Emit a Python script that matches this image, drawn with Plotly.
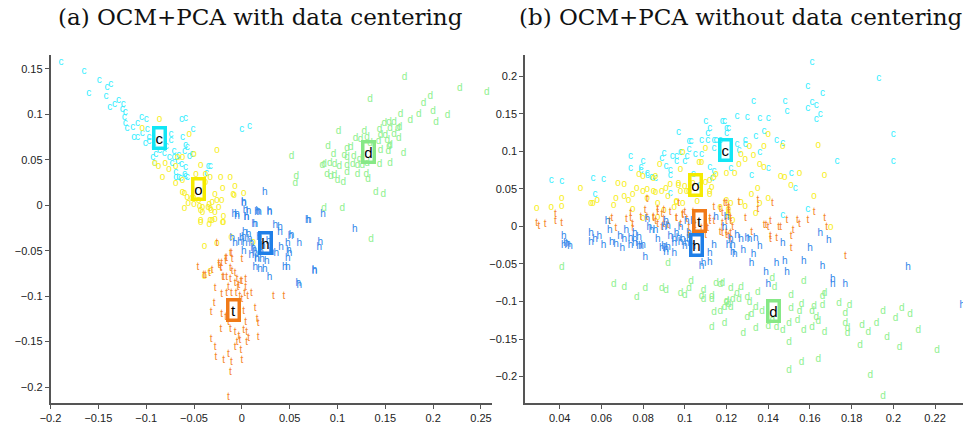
import plotly.graph_objects as go

# ---------------- Panel (a): OCM+PCA with data centering ----------------
a_c = [(-0.189,0.157),(-0.165,0.147),(-0.149,0.137),(-0.160,0.123),(-0.141,0.129),(-0.137,0.133),(-0.142,0.120),
       (-0.138,0.108),(-0.133,0.111),(-0.129,0.115),(-0.124,0.111),(-0.125,0.105),(-0.122,0.102),(-0.123,0.096),
       (-0.122,0.090),(-0.120,0.084),(-0.114,0.086),(-0.109,0.090),(-0.105,0.096),(-0.100,0.094),(-0.113,0.074),
       (-0.109,0.074),(-0.104,0.079),(-0.099,0.083),(-0.097,0.075),(-0.101,0.068),(-0.097,0.070),(-0.092,0.063),
       (-0.090,0.056),(-0.086,0.060),(-0.081,0.057),(-0.079,0.065),(-0.074,0.078),(-0.074,0.071),(-0.063,0.094),
       (-0.059,0.095),(-0.051,0.083),(-0.062,0.074),(-0.071,0.059),(-0.066,0.055),(-0.060,0.059),(-0.059,0.066),
       (-0.057,0.063),(-0.055,0.054),(-0.052,0.056),(-0.071,0.052),(-0.076,0.052),(-0.073,0.046),(-0.067,0.048),
       (-0.063,0.045),(-0.059,0.041),(-0.069,0.030),(-0.064,0.029),(-0.059,0.032),(-0.035,0.043),(-0.033,0.043),
       (-0.037,0.035),(0.000,0.083),(0.008,0.087),(-0.093,0.052),(-0.091,0.046),(-0.069,0.036),(-0.066,0.030),
       (-0.060,0.034),(-0.057,0.030)]
a_o = [(-0.086,0.094),(-0.104,0.084),(-0.055,0.078),(-0.026,0.060),(-0.091,0.046),(-0.087,0.043),(-0.080,0.046),
       (-0.076,0.039),(-0.083,0.030),(-0.069,0.043),(-0.067,0.052),(-0.062,0.052),(-0.050,0.056),(-0.043,0.044),
       (-0.069,0.024),(-0.062,0.027),(-0.060,0.013),(-0.048,0.034),(-0.038,0.034),(-0.033,0.030),(-0.022,0.030),
       (-0.012,0.031),(-0.007,0.021),(0.002,0.013),(-0.009,0.012),(-0.028,0.012),(-0.026,0.005),(-0.021,0.005),
       (-0.034,0.001),(-0.043,-0.006),(-0.033,-0.004),(-0.028,-0.008),(-0.060,-0.004),(-0.050,0.001),(-0.043,-0.017),
       (-0.033,-0.017),(-0.028,-0.016),(-0.019,-0.019),(-0.056,0.002),(-0.052,0.007),(-0.045,0.005),(-0.041,-0.003),
       (-0.035,-0.003),(-0.032,-0.006),(-0.034,-0.021),(-0.039,-0.045),(-0.026,-0.042),(-0.039,-0.078),(-0.033,-0.073),
       (-0.011,-0.036),(0.012,-0.041),(-0.020,0.018),(-0.008,0.011),(-0.031,0.003),(-0.024,-0.003),(-0.019,-0.012),
       (-0.020,-0.019),(-0.031,-0.017),(-0.043,-0.019),(-0.038,0.025),(-0.062,0.014),(-0.057,0.008),(-0.050,0.007),
       (-0.044,-0.001),(-0.041,-0.008)]
a_h = [(0.024,0.014),(0.002,0.003),(-0.008,-0.010),(-0.005,-0.010),(0.005,-0.013),(0.018,-0.008),(0.029,-0.008),
       (0.014,-0.021),(0.035,-0.022),(0.040,-0.024),(0.040,-0.030),(0.002,-0.035),(0.007,-0.032),(0.003,-0.042),
       (-0.002,-0.041),(-0.007,-0.042),(0.002,-0.051),(0.012,-0.048),(0.014,-0.053),(0.016,-0.059),(0.021,-0.060),
       (0.026,-0.062),(0.036,-0.053),(0.041,-0.046),(0.048,-0.042),(0.052,-0.033),(0.060,-0.042),(0.050,-0.053),
       (0.048,-0.059),(0.019,-0.071),(0.024,-0.071),(0.029,-0.080),(0.045,-0.068),(0.076,-0.073),(0.069,-0.017),
       (0.085,-0.010),(0.082,-0.041),(0.081,-0.046),(0.059,-0.086),(0.007,-0.007),(0.017,-0.007),(0.029,-0.007),
       (0.013,-0.021),(0.070,-0.017),(0.118,-0.027),(0.076,-0.072),(0.060,-0.088),(0.048,-0.068),(0.051,-0.034),
       (0.049,-0.050),(0.002,0.002),(-0.005,-0.012),(0.005,-0.014),(0.016,-0.008),(0.004,-0.006),(-0.010,-0.037),
       (0.000,-0.037),(0.003,-0.030),(0.010,-0.042),(0.013,-0.050),(0.016,-0.060),(0.014,-0.068),(0.008,-0.038),
       (0.018,-0.036),(0.022,-0.045),(0.010,-0.055),(0.020,-0.052),(0.028,-0.040),(0.031,-0.052)]
a_t = [(-0.026,-0.042),(-0.011,-0.053),(-0.017,-0.059),(-0.010,-0.060),(0.000,-0.060),(-0.021,-0.064),(-0.024,-0.066),
       (-0.046,-0.068),(-0.040,-0.077),(-0.034,-0.075),(-0.022,-0.070),(-0.012,-0.070),(-0.019,-0.080),(-0.016,-0.080),
       (-0.012,-0.082),(-0.007,-0.086),(-0.003,-0.088),(0.000,-0.084),(0.004,-0.082),(0.004,-0.090),(-0.004,-0.090),
       (-0.014,-0.091),(-0.028,-0.092),(-0.021,-0.098),(-0.016,-0.097),(-0.011,-0.097),(-0.006,-0.097),(-0.002,-0.100),
       (0.000,-0.104),(0.006,-0.100),(0.003,-0.097),(-0.029,-0.108),(-0.032,-0.118),(-0.021,-0.120),(-0.017,-0.124),
       (-0.014,-0.129),(-0.012,-0.137),(-0.022,-0.137),(-0.007,-0.140),(0.002,-0.117),(0.004,-0.129),(0.002,-0.138),
       (-0.003,-0.144),(-0.002,-0.149),(0.005,-0.140),(0.005,-0.151),(-0.005,-0.151),(-0.007,-0.157),(-0.032,-0.148),
       (-0.028,-0.157),(-0.027,-0.167),(-0.014,-0.164),(-0.019,-0.171),(-0.011,-0.173),(-0.012,-0.184),(-0.001,-0.160),
       (0.000,-0.171),(-0.014,-0.211),(0.010,-0.097),(0.033,-0.100),(0.044,-0.100),(0.014,-0.114),(0.016,-0.126),
       (0.017,-0.130),(0.017,-0.146),(0.007,-0.147),(-0.024,-0.064),(-0.022,-0.068),(-0.017,-0.062),(-0.016,-0.059),
       (-0.012,-0.053),(-0.010,-0.073),(-0.007,-0.075),(-0.020,-0.080),(-0.005,-0.082),(-0.001,-0.084),(-0.038,-0.077),
       (-0.031,-0.072)]
a_d = [(0.170,0.140),(0.134,0.116),(0.228,0.128),(0.256,0.124),(0.190,0.112),(0.197,0.120),(0.166,0.100),(0.176,0.093),
       (0.185,0.100),(0.200,0.103),(0.203,0.091),(0.215,0.099),(0.149,0.090),(0.154,0.091),(0.159,0.091),(0.144,0.083),
       (0.155,0.084),(0.163,0.084),(0.165,0.085),(0.145,0.077),(0.150,0.077),(0.159,0.078),(0.164,0.073),(0.152,0.071),
       (0.143,0.070),(0.154,0.065),(0.155,0.066),(0.101,0.081),(0.128,0.081),(0.119,0.073),(0.124,0.072),(0.131,0.075),
       (0.134,0.068),(0.145,0.060),(0.153,0.059),(0.169,0.057),(0.090,0.065),(0.110,0.062),(0.114,0.063),(0.096,0.056),
       (0.107,0.055),(0.110,0.052),(0.117,0.054),(0.123,0.050),(0.052,0.054),(0.084,0.044),(0.086,0.045),(0.092,0.046),
       (0.097,0.045),(0.102,0.043),(0.110,0.044),(0.116,0.045),(0.121,0.044),(0.126,0.044),(0.131,0.046),(0.144,0.045),
       (0.155,0.046),(0.089,0.034),(0.093,0.032),(0.097,0.033),(0.110,0.036),(0.121,0.034),(0.130,0.034),(0.132,0.028),
       (0.100,0.027),(0.106,0.025),(0.057,0.032),(0.056,0.024),(0.140,0.014),(0.148,0.012),(0.086,-0.004),(0.105,-0.004),
       (0.135,-0.038)]
a_centroids = {"c": (-0.086, 0.074), "o": (-0.045, 0.018), "h": (0.025, -0.041), "t": (-0.009, -0.115), "d": (0.132, 0.059)}

# ---------------- Panel (b): OCM+PCA without data centering ----------------
b_c = [(0.036,0.061),(0.041,0.060),(0.056,0.064),(0.061,0.062),(0.057,0.042),(0.074,0.093),(0.074,0.077),(0.080,0.087),
       (0.079,0.079),(0.079,0.074),(0.082,0.068),(0.084,0.065),(0.086,0.064),(0.082,0.071),(0.090,0.097),(0.089,0.091),
       (0.091,0.080),(0.094,0.093),(0.096,0.093),(0.093,0.075),(0.093,0.068),(0.096,0.087),(0.097,0.125),(0.098,0.099),
       (0.100,0.086),(0.102,0.103),(0.102,0.113),(0.103,0.113),(0.105,0.096),(0.108,0.096),(0.101,0.093),(0.104,0.069),
       (0.110,0.140),(0.112,0.131),(0.111,0.124),(0.108,0.114),(0.111,0.114),(0.114,0.114),(0.114,0.104),(0.115,0.115),
       (0.118,0.140),(0.120,0.131),(0.120,0.124),(0.117,0.114),(0.114,0.073),(0.113,0.064),(0.112,0.078),(0.107,0.054),
       (0.093,0.044),(0.161,0.218),(0.193,0.197),(0.159,0.186),(0.166,0.177),(0.133,0.166),(0.148,0.166),(0.149,0.153),
       (0.159,0.157),(0.161,0.165),(0.163,0.161),(0.165,0.149),(0.163,0.143),(0.125,0.146),(0.130,0.145),(0.136,0.144),
       (0.140,0.144),(0.121,0.131),(0.119,0.140),(0.138,0.127),(0.134,0.120),(0.144,0.115),(0.147,0.111),(0.129,0.114),
       (0.129,0.109),(0.125,0.109),(0.126,0.101),(0.136,0.098),(0.140,0.077),(0.132,0.068),(0.151,0.070),(0.153,0.050),
       (0.122,0.077),(0.173,0.087),(0.200,0.123),(0.200,0.086),(0.159,0.022),(0.147,0.015)]
b_o = [(0.029,0.024),(0.036,0.025),(0.041,0.027),(0.041,0.037),(0.050,0.050),(0.055,0.031),(0.056,0.031),(0.058,0.035),
       (0.066,0.028),(0.067,0.037),(0.068,0.057),(0.071,0.056),(0.071,0.040),(0.073,0.034),(0.075,0.043),(0.075,0.023),
       (0.077,0.050),(0.078,0.069),(0.080,0.046),(0.080,0.011),(0.082,0.049),(0.082,0.037),(0.085,0.064),(0.087,0.012),
       (0.085,0.047),(0.087,0.031),(0.088,0.082),(0.090,0.021),(0.091,0.051),(0.092,0.040),(0.093,0.056),(0.095,0.025),
       (0.096,0.033),(0.097,0.057),(0.098,0.046),(0.098,0.076),(0.099,0.098),(0.099,0.031),(0.100,0.053),(0.102,0.046),
       (0.104,0.057),(0.106,0.033),(0.108,0.085),(0.110,0.104),(0.110,0.058),(0.113,0.052),(0.112,0.043),(0.114,0.065),
       (0.115,0.069),(0.117,0.025),(0.120,0.070),(0.120,0.034),(0.121,0.015),(0.123,0.008),(0.140,0.123),(0.138,0.106),
       (0.131,0.107),(0.133,0.095),(0.127,0.096),(0.129,0.089),(0.126,0.082),(0.136,0.082),(0.138,0.078),(0.146,0.067),
       (0.148,0.065),(0.155,0.071),(0.164,0.108),(0.167,0.068),(0.151,0.055),(0.135,0.050),(0.132,0.043),(0.127,0.032),
       (0.129,0.026),(0.122,0.031),(0.121,0.022),(0.121,0.017),(0.134,0.017),(0.140,0.037),(0.136,0.030),(0.162,0.040),
       (0.147,0.107),(0.170,-0.001),(0.124,0.071),(0.080,0.067),(0.086,0.066),(0.086,0.045),(0.089,0.047),(0.097,0.054),
       (0.101,0.047),(0.096,0.032),(0.112,0.061),(0.112,0.046),(0.107,0.085)]
b_t = [(0.029,0.004),(0.030,0.000),(0.033,0.003),(0.038,0.007),(0.041,0.004),(0.038,0.016),(0.064,0.006),(0.065,0.010),
       (0.067,-0.003),(0.072,0.009),(0.074,0.011),(0.075,0.003),(0.075,-0.003),(0.074,0.017),(0.081,0.021),(0.082,0.012),
       (0.085,0.011),(0.086,0.006),(0.087,0.018),(0.089,0.016),(0.090,0.009),(0.090,0.003),(0.093,0.018),(0.096,0.011),
       (0.098,0.003),(0.099,0.016),(0.100,0.018),(0.101,0.009),(0.104,0.019),(0.108,-0.003),(0.114,0.025),(0.117,0.022),
       (0.118,0.017),(0.120,0.030),(0.121,0.021),(0.122,0.011),(0.120,0.006),(0.118,-0.002),(0.123,-0.002),(0.122,-0.009),
       (0.117,-0.008),(0.114,0.006),(0.112,0.010),(0.111,-0.003),(0.119,0.031),(0.121,0.019),(0.122,0.006),(0.120,-0.008),
       (0.121,-0.014),(0.129,0.010),(0.132,-0.008),(0.135,0.034),(0.135,0.023),(0.139,0.001),(0.140,-0.002),(0.141,0.006),
       (0.142,0.031),(0.141,-0.018),(0.144,-0.016),(0.146,-0.002),(0.149,0.008),(0.151,-0.014),(0.151,-0.030),(0.152,-0.005),
       (0.154,0.008),(0.159,0.008),(0.162,0.018),(0.167,0.011),(0.168,-0.002),(0.177,-0.040),(0.122,-0.018),(0.082,0.036),
       (0.079,0.012),(0.085,0.012),(0.087,0.023),(0.090,0.021),(0.087,0.003),(0.089,-0.001),(0.092,0.001),(0.097,0.030),
       (0.096,0.010),(0.099,0.015),(0.102,-0.001),(0.105,0.001),(0.112,0.006),(0.118,0.004),(0.118,-0.010),(0.121,0.025),
       (0.126,0.032),(0.138,0.001),(0.145,-0.001),(0.155,0.003),(0.141,-0.014),(0.120,-0.012),(0.110,-0.012),(0.102,-0.012)]
b_h = [(0.063,0.006),(0.064,-0.006),(0.042,-0.013),(0.042,-0.026),(0.043,-0.023),(0.045,-0.027),(0.044,-0.024),(0.055,-0.010),
       (0.055,-0.021),(0.057,-0.018),(0.059,-0.013),(0.061,-0.025),(0.065,-0.022),(0.067,-0.024),(0.069,-0.014),(0.071,-0.018),
       (0.072,-0.006),(0.070,-0.030),(0.074,-0.025),(0.074,-0.016),(0.076,-0.018),(0.076,-0.009),(0.079,-0.027),(0.080,-0.025),
       (0.081,-0.041),(0.078,-0.015),(0.082,0.009),(0.084,-0.005),(0.083,-0.001),(0.086,-0.005),(0.087,-0.018),(0.089,-0.030),
       (0.090,-0.027),(0.091,-0.031),(0.091,-0.035),(0.092,-0.028),(0.095,-0.036),(0.095,-0.023),(0.095,-0.018),(0.093,-0.014),
       (0.096,-0.010),(0.097,-0.016),(0.098,-0.022),(0.099,-0.018),(0.100,-0.027),(0.101,-0.023),(0.102,-0.010),(0.102,-0.018),
       (0.104,-0.027),(0.104,0.006),(0.098,-0.001),(0.092,0.000),(0.090,-0.001),(0.091,0.006),(0.101,0.006),(0.108,-0.053),
       (0.112,-0.048),(0.114,-0.026),(0.115,0.012),(0.120,0.012),(0.121,-0.025),(0.123,-0.035),(0.112,-0.036),(0.119,-0.001),
       (0.122,-0.018),(0.123,-0.025),(0.124,-0.038),(0.127,-0.018),(0.128,-0.032),(0.130,-0.016),(0.131,-0.018),(0.134,-0.016),
       (0.132,-0.049),(0.133,-0.038),(0.136,-0.027),(0.140,-0.078),(0.144,-0.049),(0.147,-0.023),(0.148,-0.047),(0.149,-0.062),
       (0.157,-0.047),(0.160,-0.030),(0.165,-0.009),(0.166,-0.054),(0.169,-0.019),(0.171,-0.071),(0.171,-0.078),(0.177,-0.078),
       (0.207,-0.055),(0.233,-0.106),(0.109,-0.049),(0.125,-0.012),(0.139,-0.062),(0.076,-0.023),(0.078,-0.027)]
b_d = [(0.041,-0.055),(0.092,-0.049),(0.066,-0.078),(0.071,-0.082),(0.077,-0.095),(0.081,-0.083),(0.089,-0.083),(0.091,-0.086),
       (0.098,-0.090),(0.100,-0.092),(0.102,-0.083),(0.103,-0.073),(0.109,-0.086),(0.108,-0.093),(0.109,-0.097),(0.113,-0.093),
       (0.113,-0.097),(0.115,-0.076),(0.117,-0.078),(0.122,-0.083),(0.120,-0.102),(0.121,-0.104),(0.122,-0.108),(0.114,-0.115),
       (0.117,-0.114),(0.119,-0.129),(0.113,-0.135),(0.123,-0.097),(0.118,-0.076),(0.125,-0.089),(0.127,-0.081),(0.120,-0.100),
       (0.126,-0.098),(0.130,-0.095),(0.131,-0.102),(0.134,-0.108),(0.135,-0.088),(0.142,-0.070),(0.143,-0.081),(0.119,-0.108),
       (0.128,-0.142),(0.130,-0.122),(0.132,-0.117),(0.134,-0.136),(0.137,-0.114),(0.140,-0.133),(0.142,-0.126),(0.144,-0.135),
       (0.147,-0.138),(0.150,-0.129),(0.151,-0.092),(0.151,-0.110),(0.154,-0.125),(0.155,-0.113),(0.156,-0.104),(0.157,-0.073),
       (0.157,-0.139),(0.161,-0.135),(0.161,-0.114),(0.162,-0.107),(0.163,-0.122),(0.164,-0.127),(0.166,-0.093),(0.166,-0.105),
       (0.167,-0.090),(0.167,-0.141),(0.174,-0.103),(0.177,-0.116),(0.179,-0.106),(0.177,-0.130),(0.178,-0.136),(0.178,-0.142),
       (0.185,-0.132),(0.188,-0.141),(0.192,-0.129),(0.195,-0.113),(0.197,-0.148),(0.201,-0.123),(0.203,-0.161),(0.204,-0.110),
       (0.208,-0.118),(0.212,-0.138),(0.221,-0.165),(0.150,-0.155),(0.150,-0.192),(0.156,-0.181),(0.164,-0.177),(0.184,-0.159),
       (0.189,-0.199),(0.195,-0.227)]
b_centroids = {"c": (0.1195, 0.102), "o": (0.105, 0.055), "t": (0.107, 0.007), "h": (0.1056, -0.025), "d": (0.1427, -0.113)}

# tick labels
a_xticks = [-0.2, -0.15, -0.1, -0.05, 0, 0.05, 0.1, 0.15, 0.2, 0.25]
a_xlabels = ["\u22120.2", "\u22120.15", "\u22120.1", "\u22120.05", "0", "0.05", "0.1", "0.15", "0.2", "0.25"]
a_yticks = [-0.2, -0.15, -0.1, -0.05, 0, 0.05, 0.1, 0.15]
a_ylabels = ["\u22120.2", "\u22120.15", "\u22120.1", "\u22120.05", "0", "0.05", "0.1", "0.15"]
b_xticks = [0.04, 0.06, 0.08, 0.1, 0.12, 0.14, 0.16, 0.18, 0.2, 0.22]
b_xlabels = ["0.04", "0.06", "0.08", "0.1", "0.12", "0.14", "0.16", "0.18", "0.2", "0.22"]
b_yticks = [-0.2, -0.15, -0.1, -0.05, 0, 0.05, 0.1, 0.15, 0.2]
b_ylabels = ["\u22120.2", "\u22120.15", "\u22120.1", "\u22120.05", "0", "0.05", "0.1", "0.15", "0.2"]

titles = ["(a) OCM+PCA with data centering", "(b) OCM+PCA without data centering"]

point_colors = {"c": "#33eeff", "o": "#f7ee1a", "h": "#2f86ea", "t": "#f5862a", "d": "#8ef08e"}
box_colors = {"c": "#12e6f5", "o": "#f5ea00", "h": "#1f7fe8", "t": "#f07a18", "d": "#86e886"}

fig = go.Figure()

def add_letters(points, ch, xa, ya):
    fig.add_trace(go.Scatter(
        x=[p[0] for p in points], y=[p[1] for p in points],
        mode="text", text=[ch] * len(points),
        textfont=dict(size=10, color=point_colors[ch], family="Liberation Sans"),
        xaxis=xa, yaxis=ya, hoverinfo="skip", showlegend=False))

for pts, ch in [(a_c, "c"), (a_o, "o"), (a_h, "h"), (a_t, "t"), (a_d, "d")]:
    add_letters(pts, ch, "x", "y")
for pts, ch in [(b_c, "c"), (b_o, "o"), (b_t, "t"), (b_h, "h"), (b_d, "d")]:
    add_letters(pts, ch, "x2", "y2")

annotations = []
for cents, xr, yr in [(a_centroids, "x", "y"), (b_centroids, "x2", "y2")]:
    for ch, (cx, cy) in cents.items():
        annotations.append(dict(
            x=cx, y=cy, xref=xr, yref=yr, text=ch, showarrow=False,
            font=dict(size=15, color="black", family="Liberation Sans"),
            bordercolor=box_colors[ch], borderwidth=3.5, borderpad=0,
            width=8, height=17, bgcolor="rgba(0,0,0,0)"))

annotations.append(dict(x=252 / 963, y=1 - 17 / 424, xref="paper", yref="paper", text=titles[0],
                        showarrow=False, xanchor="center", yanchor="middle",
                        font=dict(size=23, color="#111", family="DejaVu Serif")))
annotations.append(dict(x=738 / 963, y=1 - 17 / 424, xref="paper", yref="paper", text=titles[1],
                        showarrow=False, xanchor="center", yanchor="middle",
                        font=dict(size=23, color="#111", family="DejaVu Serif")))

axis_common = dict(showgrid=False, zeroline=False, showline=True, linecolor="#555", linewidth=1.5,
                   ticks="outside", ticklen=4, tickcolor="#555", tickwidth=1,
                   tickfont=dict(size=11, color="#222", family="Liberation Sans"), mirror=False)

fig.update_layout(
    width=963, height=424, margin=dict(l=0, r=0, t=0, b=0),
    paper_bgcolor="white", plot_bgcolor="white",
    xaxis=dict(domain=[40 / 963, 487 / 963], range=[-0.2, 0.262], anchor="y",
               tickvals=a_xticks, ticktext=a_xlabels, **axis_common),
    yaxis=dict(domain=[16 / 424, 368 / 424], range=[-0.2177, 0.1649], anchor="x",
               tickvals=a_yticks, ticktext=a_ylabels, **axis_common),
    xaxis2=dict(domain=[520 / 963, 1.0], range=[0.0234, 0.2334], anchor="y2",
                tickvals=b_xticks, ticktext=b_xlabels, **axis_common),
    yaxis2=dict(domain=[16 / 424, 368 / 424], range=[-0.2355, 0.228], anchor="x2",
                tickvals=b_yticks, ticktext=b_ylabels, **axis_common),
    annotations=annotations,
)

fig.write_html("out.html")
